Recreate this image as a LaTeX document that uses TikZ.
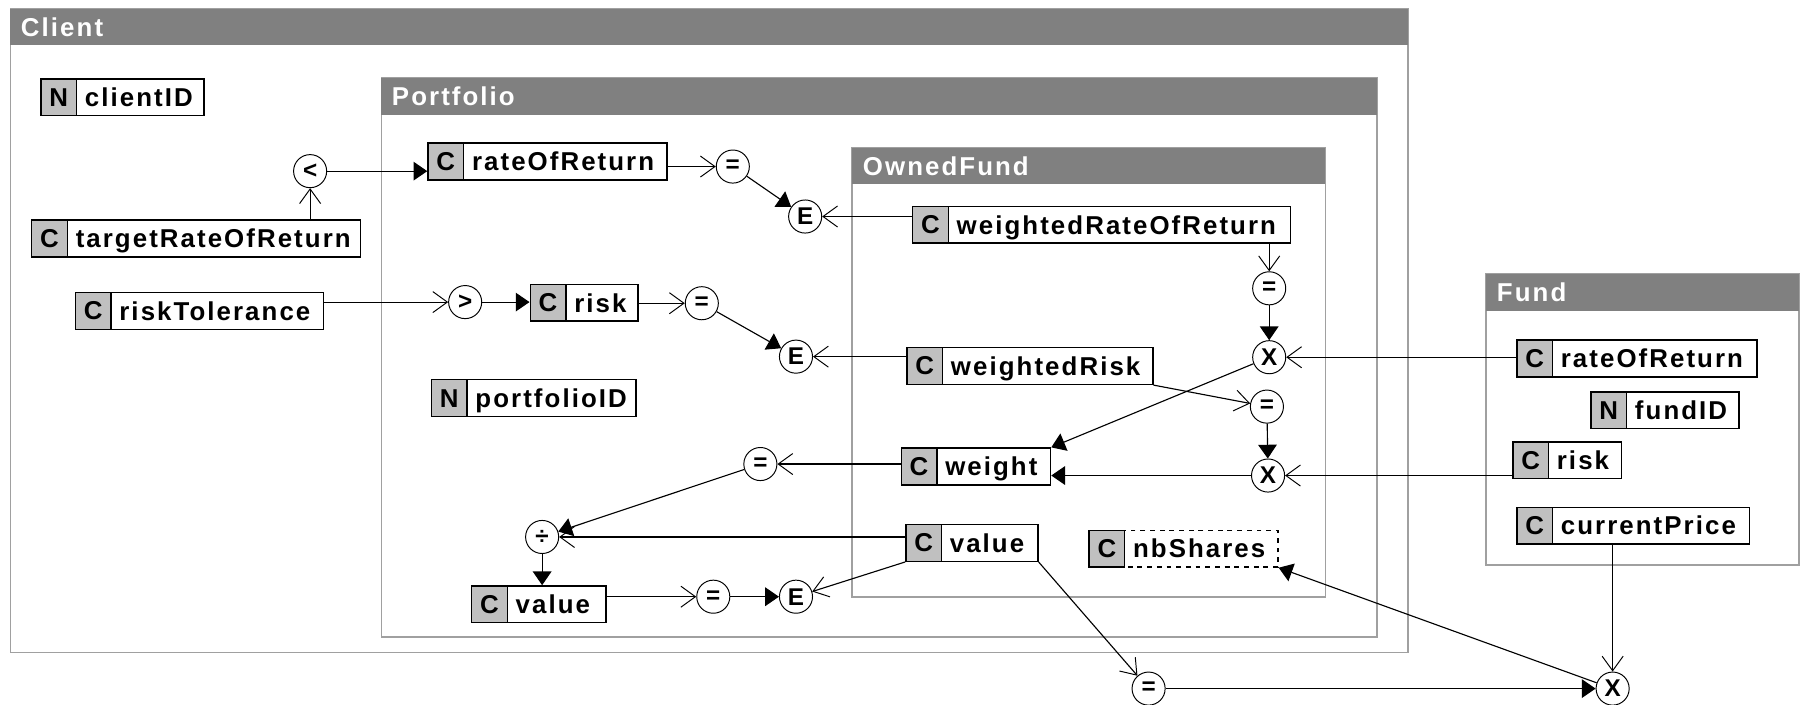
\documentclass[tikz,border=0pt]{standalone}
\usepackage{fontspec}
\newfontfamily\lblfont{Liberation Sans}[LetterSpace=8]
\newfontfamily\opfont{Liberation Sans}
\usetikzlibrary{arrows.meta}
\definecolor{hdr}{HTML}{808080}
\definecolor{framegray}{HTML}{A0A0A0}
\definecolor{keyfill}{HTML}{C0C0C0}

\tikzset{
  lbl/.style={font=\lblfont\bfseries\fontsize{16}{18}\selectfont},
  attrbody/.style={draw, fill=white, line width=0.9pt, anchor=north west,
    minimum height=0.8cm, inner sep=0pt},
  attrkey/.style={draw, fill=keyfill, line width=0.9pt, anchor=north west,
    minimum width=0.775cm, minimum height=0.8cm, inner sep=0pt, lbl},
  attrtext/.style={anchor=west, inner sep=0pt, lbl, text height=11.5pt, text depth=0pt},
  op/.style={circle, draw, line width=0.6pt, fill=white, minimum size=0.72cm,
    inner sep=0pt, font=\opfont\bfseries\fontsize{15}{16}\selectfont},
  openin/.style={line width=0.7pt, -{Straight Barb[length=9pt,width=13pt,line width=0.6pt]}},
  solidto/.style={line width=0.7pt, -{Triangle[length=8.5pt,width=11.5pt]}},
  title/.style={lbl, text=white, anchor=west, inner sep=0pt, text height=11.5pt, text depth=0pt},
}

% container: left, top, right, bottom, name, title
\newcommand\container[6]{%
  \draw[framegray, line width=1pt, fill=white] (#1,#2) rectangle (#3,#4);
  \fill[hdr] (#1,#2) rectangle (#3,#2+32);
  \node[title] (#5) at (#1+9,#2+16) {#6};
}

% attribute box: [extra body style] name, letter, left x, right x, top y, label
\newcommand\attr[7][]{%
  \node[attrbody,#1,minimum width={(#5-#4)*0.025cm}] (#2) at (#4,#6) {};
  \node[attrkey] (#2-k) at (#4,#6) {#3};
  \node[attrtext] (#2-t) at ([xshift=0.16cm]#2-k.east) {#7};
}

\begin{document}
\begin{tikzpicture}[x=0.025cm,y=-0.025cm]
\useasboundingbox[fill=white] (0,0) rectangle (1568,613);

% containers
\container{9}{7.5}{1226}{568}{clientT}{Client}
\container{332}{68}{1199}{554.5}{portT}{Portfolio}
\container{742}{128.5}{1154}{520}{ownedT}{OwnedFund}
\container{1294}{238.5}{1566}{492}{fundT}{Fund}

% attributes
\attr{cid}{N}{35}{177}{68}{clientID}
\attr{trr}{C}{27}{313}{191}{targetRateOfReturn}
\attr{ror}{C}{372}{580}{124}{rateOfReturn}
\attr{rtol}{C}{65}{281}{254}{riskTolerance}
\attr{riskP}{C}{461}{555}{247}{risk}
\attr{pid}{N}{375}{553}{330}{portfolioID}
\attr{wrr}{C}{794}{1123}{179}{weightedRateOfReturn}
\attr{wrisk}{C}{789}{1003}{302}{weightedRisk}
\attr{wgt}{C}{784}{914}{389.5}{weight}
\attr{valO}{C}{788}{903}{456}{value}
\attr[dashed]{nbs}{C}{947.5}{1112}{461}{nbShares}
\attr{valP}{C}{410}{527}{509.5}{value}
\attr{rorF}{C}{1320}{1529}{295.5}{rateOfReturn}
\attr{fid}{N}{1384.5}{1513.5}{340.5}{fundID}
\attr{riskF}{C}{1316.5}{1411}{384}{risk}
\attr{curP}{C}{1320}{1522.5}{441}{currentPrice}

% operators
\node[op] (lt)  at (270,149)   {<};
\node[op] (eq1) at (638,145)   {=};
\node[op] (E1)  at (701,188.5) {E};
\node[op] (gt)  at (405,263)   {>};
\node[op] (eq2) at (611,264)   {=};
\node[op] (E2)  at (693,310.5) {E};
\node[op] (eqw) at (1105,251)  {=};
\node[op] (Xr)  at (1105,311)  {X};
\node[op] (eqr) at (1103,354)  {=};
\node[op] (Xk)  at (1104,414)  {X};
\node[op] (eqv) at (662,404)   {=};
\node[op] (div) at (472,467.5) {÷};
\node[op] (eqb) at (621,519.5) {=};
\node[op] (E3)  at (693,519.5) {E};
\node[op] (eqo) at (1000,599.5) {=};
\node[op] (Xo)  at (1404,599.5) {X};

% connectors
\draw[openin]  (lt |- trr.north) -- (lt);
\draw[solidto] (lt) -- (lt -| ror.west);
\draw[openin]  (ror.east |- eq1) -- (eq1);
\draw[solidto] (eq1) -- (E1);
\draw[openin]  (wrr.west |- E1) -- (E1);
\draw[openin]  (wrr.south -| eqw) -- (eqw);
\draw[solidto] (eqw) -- (Xr);
\draw[openin]  (rorF.west |- Xr) -- (Xr);
\draw[solidto] (Xr) -- (wgt.north east);
\draw[openin]  (wrisk.south east) -- (eqr);
\draw[solidto] (eqr) -- (Xk);
\draw[openin]  (riskF.west |- Xk) -- (Xk);
\draw[solidto] (Xk) -- (Xk -| wgt.east);
\draw[openin]  (rtol.east |- gt) -- (gt);
\draw[solidto] (gt) -- (gt -| riskP.west);
\draw[openin]  (riskP.east |- eq2) -- (eq2);
\draw[solidto] (eq2) -- (E2);
\draw[openin]  (wrisk.west |- E2) -- (E2);
\draw[openin]  (wgt.west |- eqv) -- (eqv);
\draw[solidto] (eqv) -- (div);
\draw[openin]  (valO.west |- div) -- (div);
\draw[solidto] (div) -- (div |- valP.north);
\draw[openin]  (valP.east |- eqb) -- (eqb);
\draw[solidto] (eqb) -- (E3);
\draw[openin]  (valO.south west) -- (E3);
\draw[openin]  (valO.south east) -- (eqo);
\draw[solidto] (eqo) -- (Xo);
\draw[openin]  (curP.south -| Xo) -- (Xo);
\draw[solidto] (Xo) -- (nbs.south east);
\end{tikzpicture}
\end{document}
